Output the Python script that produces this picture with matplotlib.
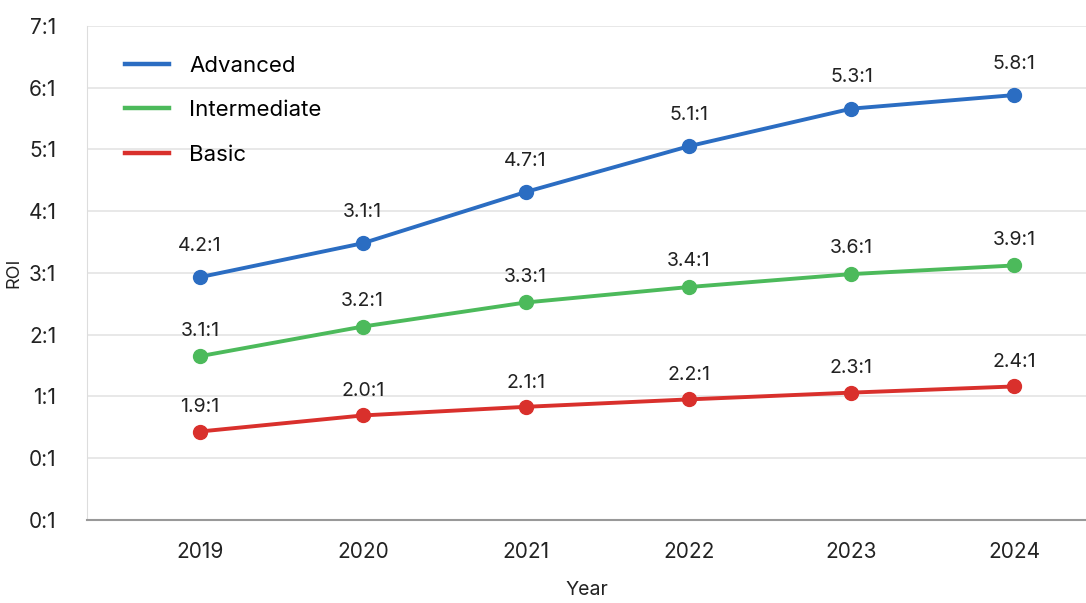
import matplotlib.pyplot as plt
from matplotlib.lines import Line2D

plt.rcParams['font.family'] = ['Inter', 'DejaVu Sans']

years = ['2019', '2020', '2021', '2022', '2023', '2024']

# plotted heights (axis units) and the labels printed above the points
advanced = [3.93, 4.48, 5.31, 6.05, 6.66, 6.88]
advanced_lbl = ['4.2:1', '3.1:1', '4.7:1', '5.1:1', '5.3:1', '5.8:1']
intermediate = [2.65, 3.13, 3.52, 3.77, 3.98, 4.12]
intermediate_lbl = ['3.1:1', '3.2:1', '3.3:1', '3.4:1', '3.6:1', '3.9:1']
basic = [1.43, 1.69, 1.83, 1.95, 2.06, 2.16]
basic_lbl = ['1.9:1', '2.0:1', '2.1:1', '2.2:1', '2.3:1', '2.4:1']

ytick_labels = ['0:1', '0:1', '1:1', '2:1', '3:1', '4:1', '5:1', '6:1', '7:1']

fig = plt.figure(figsize=(10.86, 6.03), dpi=100)
ax = fig.add_axes([0.080, 0.138, 0.92, 0.819])

x = list(range(len(years)))
series = [
    ('Advanced', advanced, advanced_lbl, '#2b6dc2', 16),
    ('Intermediate', intermediate, intermediate_lbl, '#4cba5b', 12),
    ('Basic', basic, basic_lbl, '#d9302c', 11),
]
handles = []
for name, vals, lbls, col, off in series:
    ax.plot(x, vals, color=col, lw=2.8, marker='o', ms=10, zorder=3)
    handles.append(Line2D([], [], color=col, lw=3.2, label=name))
    for xi, v, t in zip(x, vals, lbls):
        ax.annotate(t, (xi, v), xytext=(0, off), textcoords='offset points',
                    ha='center', va='bottom', fontsize=14, color='#222222')

ax.set_xlim(-0.694, 5.44)
ax.set_ylim(0, 8)
ax.set_xticks(x)
ax.set_xticklabels(years)
ax.set_yticks(range(9))
ax.set_yticklabels(ytick_labels)
ax.tick_params(axis='both', length=0, labelsize=15, colors='#222222')
ax.tick_params(axis='x', pad=16)
ax.tick_params(axis='y', pad=22)

ax.grid(axis='y', color='#e4e4e4', lw=1.2)
ax.set_axisbelow(True)
for s in ['top', 'right']:
    ax.spines[s].set_visible(False)
ax.spines['left'].set_color('#dddddd')
ax.spines['bottom'].set_color('#999999')
ax.spines['bottom'].set_linewidth(1.5)

ax.set_xlabel('Year', fontsize=14, color='#222222', labelpad=14)
ax.set_ylabel('ROI', fontsize=13, color='#222222', labelpad=4)

ax.legend(handles=handles, loc='upper left', bbox_to_anchor=(0.018, 0.98), frameon=False,
          fontsize=16, handlelength=2.0, handletextpad=0.9, labelspacing=1.1)

fig.savefig('out.png', dpi=100, facecolor='white')
